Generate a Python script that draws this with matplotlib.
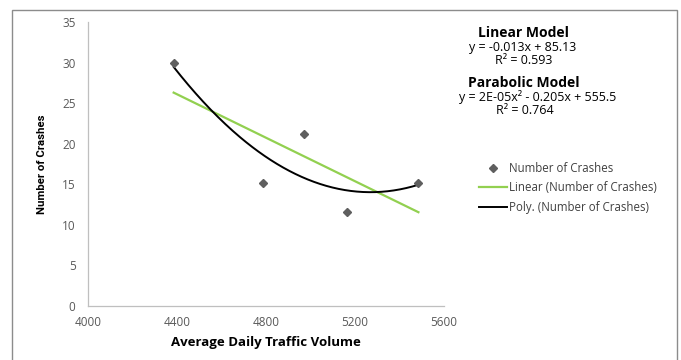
import numpy as np
import matplotlib.pyplot as plt
from matplotlib.patches import Rectangle

# traffic volume vs crashes
adt = [4385, 4785, 4970, 5165, 5485]
crashes = [29.9, 15.2, 21.2, 11.6, 15.2]

x_ticks = [4000, 4400, 4800, 5200, 5600]
y_ticks = [0, 5, 10, 15, 20, 25, 30, 35]

plt.rcParams['font.family'] = ['Open Sans', 'DejaVu Sans']

fig = plt.figure(figsize=(6.81, 3.6), dpi=100)
ax = fig.add_axes([88/681, 54/360, (444-88)/681, (306-22)/360])

# fitted trendlines
lin = np.polyfit(adt, crashes, 1)
quad = np.polyfit(adt, crashes, 2)
xs = np.linspace(min(adt), max(adt), 200)

ax.plot(adt, crashes, linestyle='none', marker='D', markersize=4.5,
        color='#5f5f5f', label='Number of Crashes', zorder=3)
ax.plot(xs, np.polyval(lin, xs), color='#92D050', lw=1.6,
        label='Linear (Number of Crashes)')
ax.plot(xs, np.polyval(quad, xs), color='black', lw=1.4,
        label='Poly. (Number of Crashes)')

ax.set_xlim(4000, 5600)
ax.set_ylim(0, 35)
ax.set_xticks(x_ticks)
ax.set_yticks(y_ticks)
ax.tick_params(length=0, labelsize=8.5, colors='#595959')
ax.tick_params(axis='y', pad=9)
ax.tick_params(axis='x', pad=7)
for s in ['top', 'right']:
    ax.spines[s].set_visible(False)
for s in ['left', 'bottom']:
    ax.spines[s].set_color('#bfbfbf')
    ax.spines[s].set_linewidth(0.9)

ax.set_xlabel('Average Daily Traffic Volume', fontsize=9.5, fontweight='bold', labelpad=5)
ax.set_ylabel('Number of Crashes', fontsize=8.2, fontweight='bold', labelpad=11,
              family=['Roboto', 'Open Sans'])

# model equations
fig.text(523/681, 1-33/360, 'Linear Model', ha='center', va='center',
         fontsize=10, fontweight='bold')
fig.text(523/681, 1-47/360, 'y = -0.013x + 85.13', ha='center', va='center', fontsize=9)
fig.text(524/681, 1-61/360, 'R² = 0.593', ha='center', va='center', fontsize=9)
fig.text(524/681, 1-83/360, 'Parabolic Model', ha='center', va='center',
         fontsize=10, fontweight='bold')
fig.text(538/681, 1-97/360, 'y = 2E-05x² - 0.205x + 555.5', ha='center', va='center', fontsize=9)
fig.text(525/681, 1-111/360, 'R² = 0.764', ha='center', va='center', fontsize=9)

leg = ax.legend(loc='upper left', bbox_to_anchor=(479/681, 1-162/360),
                bbox_transform=fig.transFigure, frameon=False, fontsize=8.3,
                handlelength=2.4, handletextpad=0.2, labelspacing=0.55,
                borderpad=0, borderaxespad=0, markerscale=0.85)
for t in leg.get_texts():
    t.set_color('#404040')

# chart border
fig.patches.append(Rectangle((12/681, -0.05), (677-12)/681, 1.05-10/360,
                             transform=fig.transFigure, fill=False,
                             edgecolor='#8c8c8c', lw=1))

fig.savefig('out.png', dpi=100)
